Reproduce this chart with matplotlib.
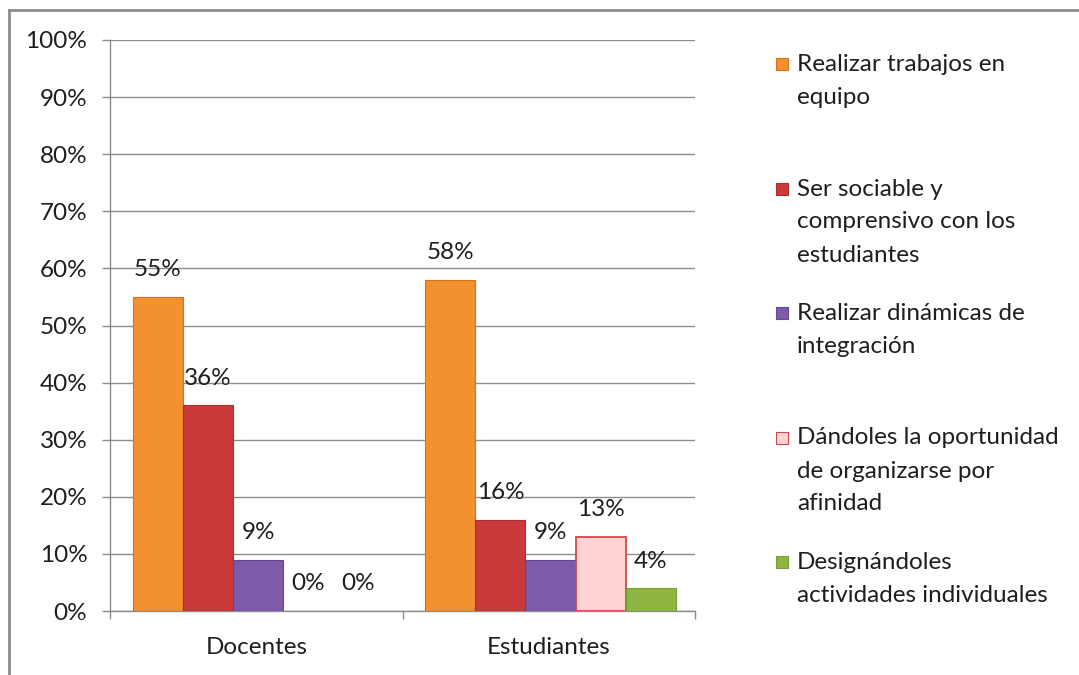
import matplotlib
matplotlib.use("Agg")
import matplotlib.pyplot as plt
from matplotlib.patches import Rectangle
from matplotlib.lines import Line2D
import numpy as np

plt.rcParams['font.family'] = ['Lato', 'DejaVu Sans']

categories = ["Docentes", "Estudiantes"]
series_names = [
    "Realizar trabajos en\nequipo",
    "Ser sociable y\ncomprensivo con los\nestudiantes",
    "Realizar dinámicas de\nintegración",
    "Dándoles la oportunidad\nde organizarse por\nafinidad",
    "Designándoles\nactividades individuales",
]
values = [
    [55, 58],
    [36, 16],
    [9, 9],
    [0, 13],
    [0, 4],
]
face_colors = ["#F39130", "#CB3A3B", "#7E5AAB", "#FFD3D3", "#8DB540"]
edge_colors = ["#D2721C", "#A92E2F", "#654690", "#D0494A", "#76A030"]
yticks = [0, 10, 20, 30, 40, 50, 60, 70, 80, 90, 100]

FS = 17.5
TXT = "#1E1E1E"
GRAY = "#8C8C8C"

fig = plt.figure(figsize=(10.79, 6.75), dpi=100)
ax = fig.add_axes([110/1079, 1-611/675, (695-110)/1079, (611-40)/675])

n = len(series_names)
bw = 0.171
x = np.arange(len(categories)) + 0.006
for i in range(n):
    offs = (i - (n - 1) / 2) * bw
    lws = [(1.3 if i == 3 else 0.8) if v > 0 else 0 for v in values[i]]
    ax.bar(x + offs, values[i], width=bw, color=face_colors[i],
           edgecolor=edge_colors[i], linewidth=lws, zorder=3)
    for xi, v in zip(x + offs, values[i]):
        ax.annotate(f"{v}%", (xi, v), xytext=(0, 19.5), textcoords="offset points",
                    ha="center", va="center", fontsize=FS, color=TXT, zorder=5)

ax.set_xlim(-0.5, 1.5)
ax.set_ylim(0, 100)
ax.set_yticks(yticks)
ax.set_yticklabels([f"{t}%" for t in yticks])
ax.yaxis.grid(True, color=GRAY, linewidth=1.0, zorder=0)
ax.set_axisbelow(True)
ax.set_xticks(np.arange(len(categories)))
ax.set_xticklabels(categories)
ax.set_xticks([-0.5, 0.5, 1.5], minor=True)
ax.tick_params(axis="x", which="major", length=0, pad=19, labelsize=FS, labelcolor=TXT)
ax.tick_params(axis="x", which="minor", length=5.8, color=GRAY, width=1)
ax.tick_params(axis="y", length=5.8, color=GRAY, width=1, pad=10.5, labelsize=FS, labelcolor=TXT)
for s in ["top", "right"]:
    ax.spines[s].set_visible(False)
for s in ["left", "bottom"]:
    ax.spines[s].set_color(GRAY)
    ax.spines[s].set_linewidth(1.0)

# legend (manual layout similar to original)
y0 = 64
step = 124.5
line_h = 33
for i, name in enumerate(series_names):
    yc = y0 + i * step
    for k, line in enumerate(name.split("\n")):
        fig.text(797/1079, 1 - (yc + 7 + k * line_h)/675, line, ha="left", va="baseline",
                 fontsize=FS, color=TXT)
    fig.patches.append(Rectangle((776/1079, 1 - (yc + 6)/675), 12/1079, 12/675,
                                 transform=fig.transFigure, facecolor=face_colors[i],
                                 edgecolor=edge_colors[i], linewidth=0.8))

# outer border
fig.add_artist(Line2D([9/1079, 9/1079], [0, 1 - 10/675], transform=fig.transFigure,
                      color=GRAY, linewidth=2))
fig.add_artist(Line2D([9/1079, 1], [1 - 10/675, 1 - 10/675], transform=fig.transFigure,
                      color=GRAY, linewidth=2))

fig.savefig("out.png", dpi=100)
